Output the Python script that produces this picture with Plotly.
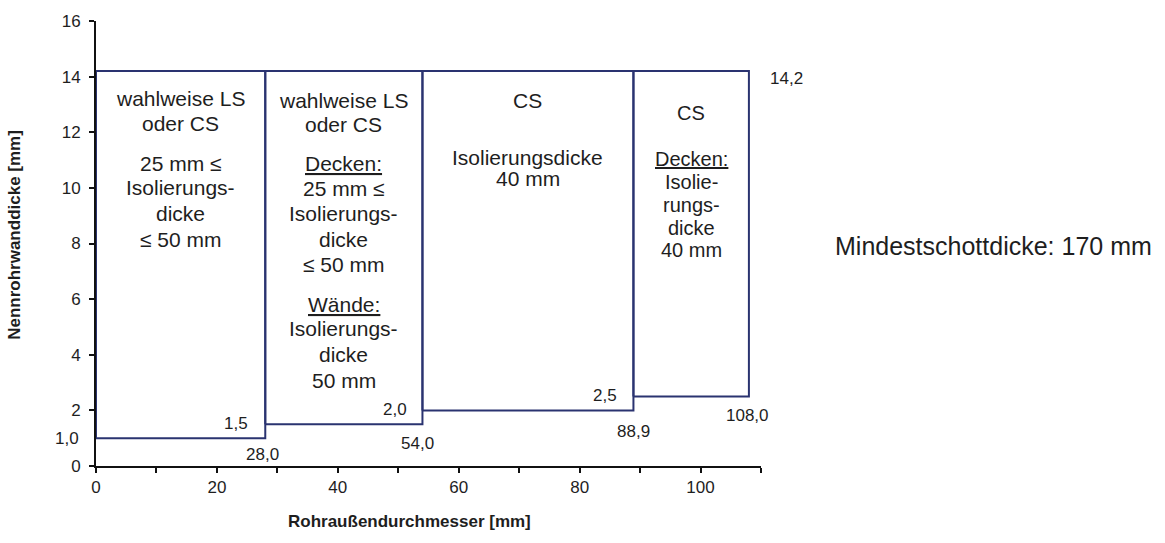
import plotly.graph_objects as go

# ---- data ----
x_lo = [0.0, 28.0, 54.0, 88.9]
x_hi = [28.0, 54.0, 88.9, 108.0]
y_lo = [1.0, 1.5, 2.0, 2.5]
y_top = 14.2

x_edge_labels = ["28,0", "54,0", "88,9", "108,0"]
y_step_labels = ["1,5", "2,0", "2,5"]
top_label = "14,2"

region_texts = [
    [("wahlweise LS", 13.21), ("oder CS", 12.32), ("25 mm ≤", 10.89),
     ("Isolierungs-", 10.0), ("dicke", 9.07), ("≤ 50 mm", 8.14)],
    [("wahlweise LS", 13.14), ("oder CS", 12.29), ("<u>Decken:</u>", 10.86),
     ("25 mm ≤", 9.96), ("Isolierungs-", 9.07), ("dicke", 8.14), ("≤ 50 mm", 7.25),
     ("<u>Wände:</u>", 5.82), ("Isolierungs-", 4.93), ("dicke", 4.0), ("50 mm", 3.07)],
    [("CS", 13.14), ("Isolierungsdicke", 11.11), ("40 mm", 10.32)],
    [("CS", 12.71), ("<u>Decken:</u>", 11.04), ("Isolie-", 10.21),
     ("rungs-", 9.39), ("dicke", 8.57), ("40 mm", 7.75)],
]
region_font = [21, 21, 21, 20]

x_ticks = [0, 10, 20, 30, 40, 50, 60, 70, 80, 90, 100, 110]
x_ticktext = ["0", "", "20", "", "40", "", "60", "", "80", "", "100", ""]
y_ticks = [0, 2, 4, 6, 8, 10, 12, 14, 16]
y_ticktext = ["0", "2", "4", "6", "8", "10", "12", "14", "16"]

x_title = "Rohraußendurchmesser [mm]"
y_title = "Nennrohrwanddicke [mm]"
note = "Mindestschottdicke: 170 mm"

FONT = "Liberation Sans, Arial, sans-serif"
TXT = "#1e1e1e"
LINE = "#2a3370"

fig = go.Figure()

for i in range(len(x_lo)):
    fig.add_trace(go.Scatter(
        x=[x_lo[i], x_lo[i], x_hi[i], x_hi[i], x_lo[i]],
        y=[y_lo[i], y_top, y_top, y_lo[i], y_lo[i]],
        mode="lines", line=dict(color=LINE, width=2),
        hoverinfo="skip", showlegend=False, cliponaxis=False))

ann = []
# region texts
for i, lines in enumerate(region_texts):
    xc = (x_lo[i] + x_hi[i]) / 2
    for txt, yv in lines:
        ann.append(dict(x=xc, y=yv, xref="x", yref="y", text=txt, showarrow=False,
                        xanchor="center", yanchor="middle",
                        font=dict(family=FONT, size=region_font[i], color=TXT)))

# x edge labels below step lines
edge_shift = [(-3, -16), (-5, -19), (0, -21), (-1, -19)]
for i, lab in enumerate(x_edge_labels):
    ann.append(dict(x=x_hi[i], y=y_lo[i], xref="x", yref="y", text=lab, showarrow=False,
                    xanchor="center", yanchor="middle",
                    xshift=edge_shift[i][0], yshift=edge_shift[i][1],
                    font=dict(family=FONT, size=17, color=TXT)))

# step value labels (lower bound of next region)
step_shift = [-15, -13, -14]
for i, lab in enumerate(y_step_labels):
    ann.append(dict(x=x_hi[i], y=y_lo[i + 1], xref="x", yref="y", text=lab, showarrow=False,
                    xanchor="right", yanchor="middle", xshift=step_shift[i], yshift=1,
                    font=dict(family=FONT, size=17, color=TXT)))

# first lower bound on y axis
ann.append(dict(x=0, y=y_lo[0], xref="x", yref="y", text="1,0", showarrow=False,
                xanchor="right", yanchor="middle", xshift=-15,
                font=dict(family=FONT, size=17, color=TXT)))

# top value
ann.append(dict(x=x_hi[-1], y=y_top, xref="x", yref="y", text=top_label, showarrow=False,
                xanchor="left", yanchor="middle", xshift=19, yshift=-7,
                font=dict(family=FONT, size=17, color=TXT)))

# note
ann.append(dict(x=1.108, y=0.4955, xref="paper", yref="paper", text=note, showarrow=False,
                xanchor="left", yanchor="middle",
                font=dict(family=FONT, size=25, color=TXT)))

# axis titles
ann.append(dict(x=0.472, y=-0.125, xref="paper", yref="paper", text="<b>" + x_title + "</b>",
                showarrow=False, xanchor="center", yanchor="middle",
                font=dict(family=FONT, size=17, color=TXT)))
ann.append(dict(x=-0.123, y=0.52, xref="paper", yref="paper", text="<b>" + y_title + "</b>",
                showarrow=False, xanchor="center", yanchor="middle", textangle=-90,
                font=dict(family=FONT, size=17, color=TXT)))

fig.update_layout(
    width=1165, height=543,
    margin=dict(l=96, r=404, t=18, b=77),
    paper_bgcolor="white", plot_bgcolor="white",
    showlegend=False,
    annotations=ann,
    xaxis=dict(range=[0, 110], tickvals=x_ticks, ticktext=x_ticktext,
               showgrid=False, zeroline=False, showline=True, linecolor="#111111",
               linewidth=2, ticks="outside", ticklen=5, tickwidth=2, tickcolor="#111111",
               tickfont=dict(family=FONT, size=17, color=TXT)),
    yaxis=dict(range=[0, 16], tickvals=y_ticks, ticktext=y_ticktext,
               showgrid=False, zeroline=False, showline=True, linecolor="#111111",
               linewidth=2, ticks="outside", ticklen=5, tickwidth=2, tickcolor="#111111",
               ticklabelstandoff=5,
               tickfont=dict(family=FONT, size=17, color=TXT)),
)

fig.write_html("out.html", config={"displayModeBar": False},
               post_script="document.body.style.margin='0';document.body.style.overflow='hidden';")
